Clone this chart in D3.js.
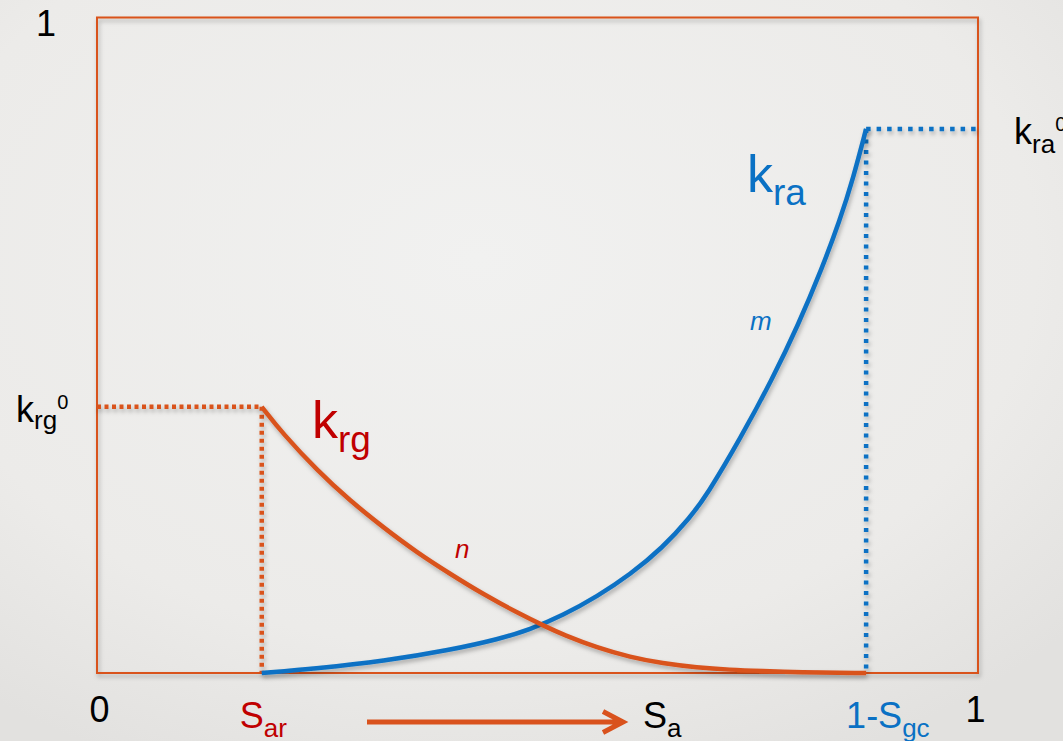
<!DOCTYPE html>
<html>
<head>
<meta charset="utf-8">
<script src="https://cdn.jsdelivr.net/npm/d3@7"></script>
<style>
  html, body { margin: 0; padding: 0; background: #ecebe9; }
  svg { display: block; font-family: "Liberation Sans", Arial, sans-serif; }
</style>
</head>
<body>
<svg id="chart" width="1063" height="741"></svg>
<script>
// Relative permeability curves: gas (krg) and aqueous (kra) vs. aqueous saturation Sa
const Sar = 0.187;       // residual aqueous saturation
const SgcEnd = 0.873;    // 1 - critical gas saturation
const krg0 = 0.406;      // end-point gas relative permeability
const kra0 = 0.83;       // end-point aqueous relative permeability

const saGas = [0.187, 0.211, 0.25, 0.287, 0.325, 0.363, 0.401, 0.438, 0.477, 0.511,
               0.529, 0.568, 0.605, 0.642, 0.681, 0.718, 0.756, 0.795, 0.873];
const krgValues = [0.406, 0.365, 0.309, 0.263, 0.222, 0.184, 0.151, 0.1205, 0.092, 0.0696,
                   0.0586, 0.0383, 0.0243, 0.0146, 0.0084, 0.0049, 0.0029, 0.0011, 0.0];

const saAq = [0.187, 0.25, 0.325, 0.401, 0.457, 0.491, 0.529, 0.568, 0.605, 0.642,
              0.673, 0.692, 0.73, 0.767, 0.795, 0.824, 0.843, 0.858, 0.873];
const kraValues = [0.0, 0.007, 0.018, 0.035, 0.052, 0.066, 0.088, 0.117, 0.150, 0.191,
                   0.237, 0.271, 0.357, 0.450, 0.528, 0.621, 0.69, 0.753, 0.83];

const xTicks = [0, 1];
const yTicks = [1];

const ORANGE = "#d9521d", BLUE = "#0a71c4", RED = "#c00000";

const svg = d3.select("#chart");
const W = 1063, H = 741;

// background with soft vignette
const defs = svg.append("defs");
const bg = defs.append("radialGradient").attr("id", "bg")
  .attr("cx", "45%").attr("cy", "35%").attr("r", "75%");
bg.append("stop").attr("offset", "0%").attr("stop-color", "#f1f1f0");
bg.append("stop").attr("offset", "70%").attr("stop-color", "#ecebe9");
bg.append("stop").attr("offset", "100%").attr("stop-color", "#e2e1df");
const sh = defs.append("filter").attr("id", "shadow")
  .attr("x", "-10%").attr("y", "-10%").attr("width", "130%").attr("height", "130%");
sh.append("feDropShadow").attr("dx", 1.5).attr("dy", 3).attr("stdDeviation", 2)
  .attr("flood-color", "#000").attr("flood-opacity", 0.28);

svg.append("rect").attr("width", W).attr("height", H).attr("fill", "url(#bg)");

const x = d3.scaleLinear().domain([0, 1]).range([97, 978]);
const y = d3.scaleLinear().domain([0, 1]).range([673, 17.5]);

// frame
svg.append("rect")
  .attr("x", x(0)).attr("y", y(1))
  .attr("width", x(1) - x(0)).attr("height", y(0) - y(1))
  .attr("fill", "none").attr("stroke", ORANGE).attr("stroke-width", 2)
  .attr("filter", "url(#shadow)");

// axis tick labels 0 and 1
const xAxis = svg.append("g").attr("transform", `translate(0,${y(0)})`)
  .call(d3.axisBottom(x).tickValues(xTicks).tickSize(0).tickPadding(23).tickFormat(d3.format("d")));
xAxis.select(".domain").remove();
xAxis.selectAll("text").attr("font-size", 36).attr("fill", "#000")
  .attr("font-family", "Liberation Sans, Arial, sans-serif")
  .attr("dx", d => d === 1 ? -3 : 2);

const yAxis = svg.append("g").attr("transform", `translate(${x(0)},0)`)
  .call(d3.axisLeft(y).tickValues(yTicks).tickSize(0).tickPadding(41).tickFormat(d3.format("d")));
yAxis.select(".domain").remove();
yAxis.selectAll("text").attr("font-size", 36).attr("fill", "#000").attr("dy", "0.5em")
  .attr("font-family", "Liberation Sans, Arial, sans-serif");

// dotted guide lines to end points
const guides = svg.append("g").attr("filter", "url(#shadow)").attr("fill", "none");
guides.append("path")
  .attr("d", `M${x(0)},${y(krg0)}H${x(Sar)}`)
  .attr("stroke", ORANGE).attr("stroke-width", 4.5).attr("stroke-dasharray", "4,3.5");
guides.append("path")
  .attr("d", `M${x(Sar)},${y(krg0)}V${y(0)}`)
  .attr("stroke", ORANGE).attr("stroke-width", 4.5).attr("stroke-dasharray", "4,4");
guides.append("path")
  .attr("d", `M${x(SgcEnd)},${y(kra0)}H${x(1)}`)
  .attr("stroke", BLUE).attr("stroke-width", 4.5).attr("stroke-dasharray", "4.5,6");
guides.append("path")
  .attr("d", `M${x(SgcEnd)},${y(kra0)}V${y(0)}`)
  .attr("stroke", BLUE).attr("stroke-width", 4.5).attr("stroke-dasharray", "4,6.5");

// curves (B-spline through the sampled values for a smooth trace)
const line = d3.line().x(d => x(d[0])).y(d => y(d[1])).curve(d3.curveBasis);
svg.append("path")
  .datum(d3.zip(saAq, kraValues))
  .attr("d", line).attr("fill", "none").attr("stroke", BLUE).attr("stroke-width", 4.5)
  .attr("stroke-linejoin", "round").attr("filter", "url(#shadow)");
svg.append("path")
  .datum(d3.zip(saGas, krgValues))
  .attr("d", line).attr("fill", "none").attr("stroke", ORANGE).attr("stroke-width", 4.5)
  .attr("stroke-linejoin", "round").attr("filter", "url(#shadow)");

// labels with sub/superscripts
function label(px, py, color, parts, style) {
  const t = svg.append("text").attr("x", px).attr("y", py).attr("fill", color);
  if (style) t.attr("font-style", style);
  let base = 0;
  parts.forEach(p => {
    const dy = (p.off || 0) - base;
    base = p.off || 0;
    t.append("tspan").attr("dy", dy).attr("font-size", p.size).text(p.t);
  });
  return t;
}

label(16, y(krg0) + 15, "#000", [
  { t: "k", size: 36 }, { t: "rg", size: 26, off: 7 }, { t: "0", size: 20, off: -13 }]);
label(1014, y(kra0) + 15, "#000", [
  { t: "k", size: 36 }, { t: "ra", size: 26, off: 9 }, { t: "0", size: 20, off: -13 }]);

label(312, 438, RED, [{ t: "k", size: 52 }, { t: "rg", size: 37, off: 14 }]);
label(747, 192, BLUE, [{ t: "k", size: 52 }, { t: "ra", size: 37, off: 13 }]);

label(455, 558, RED, [{ t: "n", size: 26 }], "italic");
label(750, 330, BLUE, [{ t: "m", size: 26 }], "italic");

label(x(Sar) - 22, 728, RED, [{ t: "S", size: 36 }, { t: "ar", size: 26, off: 9 }]);
label(x(SgcEnd) - 20, 728, BLUE, [{ t: "1-S", size: 36 }, { t: "gc", size: 26, off: 9 }]);
label(643, 728, "#000", [{ t: "S", size: 36 }, { t: "a", size: 26, off: 9 }]);

// direction arrow for increasing Sa
svg.append("path")
  .attr("d", "M367,722H622 M603,711.5L623,722L603,732.5")
  .attr("fill", "none").attr("stroke", ORANGE).attr("stroke-width", 5)
  .attr("stroke-linecap", "butt").attr("stroke-linejoin", "miter");
</script>
</body>
</html>
